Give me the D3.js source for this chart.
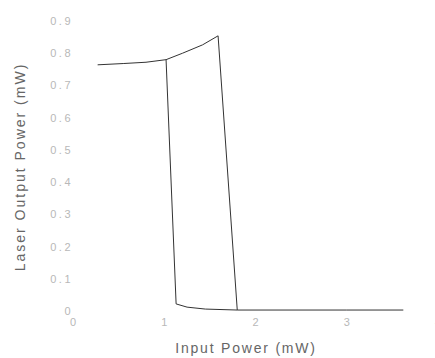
<!DOCTYPE html>
<html>
<head>
<meta charset="utf-8">
<script src="https://cdn.jsdelivr.net/npm/d3@7"></script>
<style>
  body { margin: 0; background: #fff; }
  text { font-family: "Liberation Sans", Arial, sans-serif; }
</style>
</head>
<body>
<div id="chart"></div>
<script>
// increasing input: stays high until ~1.6 mW, then drops
var upX = [0.27, 0.55, 0.8, 1.02, 1.2, 1.42, 1.59, 1.80];
var upY = [0.764, 0.768, 0.772, 0.780, 0.800, 0.826, 0.854, 0.003];
// decreasing input: stays low until ~1.1 mW, then jumps up
var downX = [3.62, 3.0, 2.4, 1.80, 1.45, 1.25, 1.13, 1.02];
var downY = [0.003, 0.003, 0.003, 0.003, 0.006, 0.012, 0.022, 0.780];
var xTicks = [0, 1, 2, 3, 4];
var yTicks = [0, 0.1, 0.2, 0.3, 0.4, 0.5, 0.6, 0.7, 0.8, 0.9];

var width = 435, height = 358;
var svg = d3.select('#chart').append('svg').attr('width', width).attr('height', height);

var x = d3.scaleLinear().domain([0, 4]).range([73, 438]);
var y = d3.scaleLinear().domain([0, 0.9]).range([311, 21]);

var line = d3.line()
	.x(d => x(d[0]))
	.y(d => y(d[1]));

var g = svg.append('g');

g.selectAll('.ytick')
	.data(yTicks)
	.enter().append('text')
	.attr('x', 73)
	.attr('y', d => y(d) + 4)
	.attr('text-anchor', 'end')
	.attr('fill', '#b8b8b8')
	.style('font-size', '11px')
	.style('letter-spacing', '2.5px')
	.text(d => d === 0 ? '0' : d3.format('.1f')(d));

g.selectAll('.xtick')
	.data(xTicks)
	.enter().append('text')
	.attr('x', d => x(d))
	.attr('y', 326)
	.attr('text-anchor', 'middle')
	.attr('fill', '#b8b8b8')
	.style('font-size', '11px')
	.text(d => d);

var chartgroup = g.append('g')
	.attr('fill', 'none')
	.attr('stroke', '#333')
	.attr('stroke-width', 1)
	.attr('stroke-linejoin', 'round');

chartgroup.append('path')
	.datum(d3.zip(upX, upY))
	.attr('d', line);

chartgroup.append('path')
	.datum(d3.zip(downX, downY))
	.attr('d', line);

svg.append('text')
	.attr('x', 246)
	.attr('y', 353)
	.attr('text-anchor', 'middle')
	.attr('fill', '#666')
	.style('font-size', '14px')
	.style('letter-spacing', '1.8px')
	.text('Input Power (mW)');

svg.append('text')
	.attr('transform', 'translate(25,167) rotate(-90)')
	.attr('text-anchor', 'middle')
	.attr('fill', '#666')
	.style('font-size', '14px')
	.style('letter-spacing', '2px')
	.text('Laser Output Power (mW)');
</script>
</body>
</html>
